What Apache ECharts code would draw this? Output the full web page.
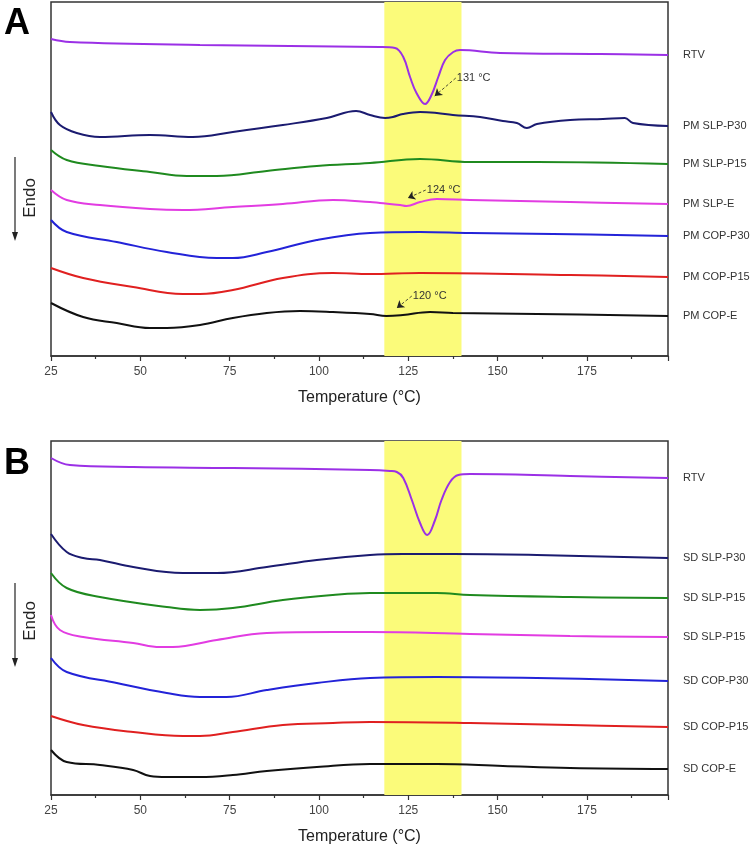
<!DOCTYPE html>
<html>
<head>
<meta charset="utf-8">
<script src="https://cdn.jsdelivr.net/npm/echarts@6/dist/echarts.min.js"></script>
<style>
  html, body { margin: 0; padding: 0; background: #fff; }
  #chart { width: 750px; height: 847px; }
</style>
</head>
<body>
<div id="chart"></div>
<script>
// DSC curves, [temperature, heat flow (a.u., offset)]
var rtvA = [[25,31.7],[30.3,31.4],[66.7,31.1],[117,30.9],[121.3,30.8],[123.6,29.9],[125.5,27.9],[127.3,26.3],[129.7,25.2],[131.5,26.1],[133.4,27.9],[135.3,29.6],[137.6,30.4],[139.5,30.6],[150.7,30.3],[178.7,30.2],[197.7,30.1]];
var pmSlpP30 = [[25,24.4],[27.5,23.1],[32.2,22.3],[38.7,21.9],[52.7,22.1],[64.7,21.9],[75.9,22.4],[89.9,23.1],[102.2,23.8],[110.4,24.5],[114.3,24.1],[118.5,23.8],[120.7,23.9],[123.5,24.2],[128.3,24.4],[133,24.3],[137.5,24.1],[145.1,23.9],[151.5,23.5],[155.4,23.3],[158.2,22.8],[161,23.2],[170.3,23.6],[179.5,23.7],[185.6,23.8],[187.9,23.3],[197.7,23.0]];
var pmSlpP15 = [[25,20.6],[29.4,19.6],[38.7,19.0],[52.7,18.4],[63,18.0],[71.4,18.0],[85.4,18.5],[99.4,19.0],[114.3,19.3],[128.3,19.7],[142.3,19.4],[161,19.4],[197.7,19.2]];
var pmSlpE = [[25,16.6],[29.4,15.6],[38.7,15.1],[52.7,14.7],[61.9,14.6],[75.9,14.9],[89.9,15.2],[103.9,15.6],[114.3,15.4],[117.1,15.3],[122.7,15.1],[124.5,15.0],[128.3,15.4],[133,15.7],[142.3,15.6],[170.3,15.4],[197.7,15.2]];
var pmCopP30 = [[25,13.6],[29.4,12.4],[43.4,11.4],[57.4,10.4],[71.4,9.8],[75.9,9.8],[85.4,10.4],[99.4,11.6],[114.3,12.3],[128.3,12.4],[142.3,12.3],[165.5,12.2],[197.7,12.0]];
var pmCopP15 = [[25,8.8],[34,7.8],[48,6.9],[61.9,6.2],[66.7,6.2],[75.9,6.6],[89.9,7.8],[103.9,8.3],[114.3,8.2],[128.3,8.3],[170.3,8.1],[197.7,7.9]];
var pmCopE = [[25,5.3],[34,3.9],[43.4,3.3],[52.7,2.8],[57.4,2.8],[66.7,3.1],[75.9,3.8],[85.4,4.3],[94.7,4.5],[103.9,4.4],[114.3,4.2],[118.9,4.0],[123.5,4.1],[131.1,4.4],[137.5,4.3],[161,4.2],[197.7,4.0]];

var rtvB = [[25,33.7],[30.3,33.0],[48,32.8],[75.9,32.7],[114.3,32.5],[119.9,32.4],[121.8,32.3],[123.6,31.7],[126,29.5],[128.3,27.2],[130.3,26.0],[132.5,27.5],[134.3,29.5],[136.7,31.3],[139,32.0],[142.3,32.1],[170.3,31.9],[197.7,31.7]];
var sdSlpP30 = [[25,26.1],[29.4,24.3],[34,23.7],[38.7,23.5],[48,22.8],[61.9,22.2],[71.4,22.2],[85.4,22.8],[99.4,23.5],[114.3,24.0],[123.5,24.1],[137.5,24.1],[161,24.0],[197.7,23.7]];
var sdSlpP15 = [[25,22.2],[29.4,20.7],[38.7,19.8],[57.4,18.8],[66.7,18.5],[75.9,18.7],[89.9,19.5],[103.9,20.0],[114.3,20.2],[133,20.2],[142.3,20.0],[170.3,19.8],[197.7,19.7]];
var sdSlpP15b = [[25,18.0],[27.5,16.5],[34,15.8],[48,15.2],[55.5,14.8],[59.1,14.8],[71.4,15.5],[85.4,16.2],[103.9,16.3],[114.3,16.3],[142.3,16.1],[170.3,15.9],[197.7,15.8]];
var sdCopP30 = [[25,13.7],[29.4,12.3],[43.4,11.2],[57.4,10.2],[66.7,9.8],[74.1,9.8],[85.4,10.5],[99.4,11.2],[114.3,11.7],[133,11.8],[161,11.7],[197.7,11.4]];
var sdCopP15 = [[25,7.9],[34,7.0],[48,6.3],[61.9,5.9],[66.7,5.9],[75.9,6.3],[89.9,7.0],[103.9,7.2],[114.3,7.3],[142.3,7.2],[170.3,7.0],[197.7,6.8]];
var sdCopE = [[25,4.5],[29.4,3.3],[38.7,3.0],[48,2.5],[52.7,1.9],[57.4,1.8],[66.7,1.8],[75.9,2.0],[85.4,2.4],[99.4,2.8],[114.3,3.1],[133,3.1],[151.5,2.9],[170.3,2.7],[197.7,2.6]];

var namesA = ['RTV', 'PM SLP-P30', 'PM SLP-P15', 'PM SLP-E', 'PM COP-P30', 'PM COP-P15', 'PM COP-E'];
var namesB = ['RTV', 'SD SLP-P30', 'SD SLP-P15', 'SD SLP-P15', 'SD COP-P30', 'SD COP-P15', 'SD COP-E'];
var colors = ['#9b30e6', '#1b1b70', '#1f8a1f', '#e23ce2', '#2323d8', '#e02020', '#111111'];

var band = [118.3, 139.9];   // highlighted region (°C)
var xTicks = [25, 175, 25];  // min, last label, step
var xMax = 197.7;

// peak annotations on panel A: text, arrow start, arrow tip
var peaksA = [
    { text: '131 °C', from: [138.3, 27.8], to: [132.4, 26.0], series: 0 },
    { text: '124 °C', from: [129.9, 16.6], to: [124.9, 15.8], series: 3 },
    { text: '120 °C', from: [126.0, 6.0], to: [121.8, 4.8], series: 6 }
];

var font = 'Liberation Sans, Arial, sans-serif';

var dataA = [rtvA, pmSlpP30, pmSlpP15, pmSlpE, pmCopP30, pmCopP15, pmCopE];
var dataB = [rtvB, sdSlpP30, sdSlpP15, sdSlpP15b, sdCopP30, sdCopP15, sdCopE];

function makeSeries(data, names, idx) {
    var list = [];
    for (var i = 0; i < data.length; i++) {
        var s = {
            type: 'line',
            name: names[i],
            xAxisIndex: idx,
            yAxisIndex: idx,
            data: data[i],
            showSymbol: false,
            smooth: 0.4,
            z: 3,
            lineStyle: { color: colors[i], width: 2 },
            itemStyle: { color: colors[i] },
            endLabel: {
                show: true,
                formatter: names[i],
                distance: 15,
                color: '#333',
                fontSize: 11,
                fontFamily: font
            }
        };
        if (i == 0) {
            s.markArea = {
                silent: true,
                z: 1,
                itemStyle: { color: '#fbfb7a' },
                data: [[{ xAxis: band[0] }, { xAxis: band[1] }]]
            };
        }
        list.push(s);
    }
    return list;
}

var seriesA = makeSeries(dataA, namesA, 0);
var seriesB = makeSeries(dataB, namesB, 1);

// arrows + labels for the peak temperatures
peaksA.forEach(function (p) {
    var s = seriesA[p.series];
    s.markLine = s.markLine || {
        silent: true,
        symbolSize: [0, 7],
        lineStyle: { color: '#222', width: 0.8, type: [3, 2] },
        label: { show: false },
        data: []
    };
    s.markLine.data.push([
        { coord: p.from, symbol: 'none' },
        { coord: p.to, symbol: 'arrow', symbolSize: 7 }
    ]);
    s.markPoint = s.markPoint || { silent: true, data: [] };
    s.markPoint.data.push({
        coord: p.from,
        symbol: 'circle',
        symbolSize: 0,
        label: {
            show: true, position: 'right', distance: 1,
            formatter: p.text, color: '#333', fontSize: 11, fontFamily: font
        }
    });
});

function xAxisFor(idx) {
    return {
        type: 'value',
        gridIndex: idx,
        min: xTicks[0],
        max: xMax,
        interval: xTicks[2],
        name: 'Temperature (°C)',
        nameLocation: 'middle',
        nameGap: 34,
        nameTextStyle: { color: '#222', fontSize: 16, fontFamily: font },
        axisLine: { show: true, lineStyle: { color: '#333', width: 1.5 } },
        axisTick: { show: true, length: 5, lineStyle: { color: '#333', width: 1.2 } },
        minorTick: { show: true, splitNumber: 2, length: 3, lineStyle: { color: '#333', width: 1.2 } },
        axisLabel: {
            margin: 10, color: '#444', fontSize: 12, fontFamily: font,
            showMaxLabel: false,
            formatter: function (v) { return v <= xTicks[1] ? v : ''; }
        },
        splitLine: { show: false }
    };
}

function yAxisFor(idx) {
    return {
        type: 'value', gridIndex: idx, min: 0, max: 35.4,
        axisLine: { show: false }, axisTick: { show: false },
        axisLabel: { show: false }, splitLine: { show: false }
    };
}

function endoArrow(top, textY) {
    return [
        { type: 'line', shape: { x1: 15, y1: top, x2: 15, y2: top + 76 }, style: { stroke: '#222', lineWidth: 1.2 } },
        { type: 'polygon', shape: { points: [[12, top + 75], [18, top + 75], [15, top + 84]] }, style: { fill: '#222' } },
        { type: 'text', x: 30, y: textY, rotation: Math.PI / 2,
          style: { text: 'Endo', fill: '#222', font: '17px ' + font, align: 'center', verticalAlign: 'middle' } }
    ];
}

var chart = echarts.init(document.getElementById('chart'));
var option = {
    animation: false,
    backgroundColor: '#fff',
    grid: [
        { left: 51, top: 2, right: 82, height: 354, show: true, borderColor: '#333', borderWidth: 1.5, backgroundColor: 'transparent' },
        { left: 51, top: 441, right: 82, height: 354, show: true, borderColor: '#333', borderWidth: 1.5, backgroundColor: 'transparent' }
    ],
    xAxis: [xAxisFor(0), xAxisFor(1)],
    yAxis: [yAxisFor(0), yAxisFor(1)],
    series: seriesA.concat(seriesB),
    graphic: [
        { type: 'text', left: 4, top: 6, style: { text: 'A', fill: '#000', font: 'bold 36px ' + font } },
        { type: 'text', left: 4, top: 446, style: { text: 'B', fill: '#000', font: 'bold 36px ' + font } }
    ].concat(endoArrow(157, 198), endoArrow(583, 621))
};
chart.setOption(option);
</script>
</body>
</html>
